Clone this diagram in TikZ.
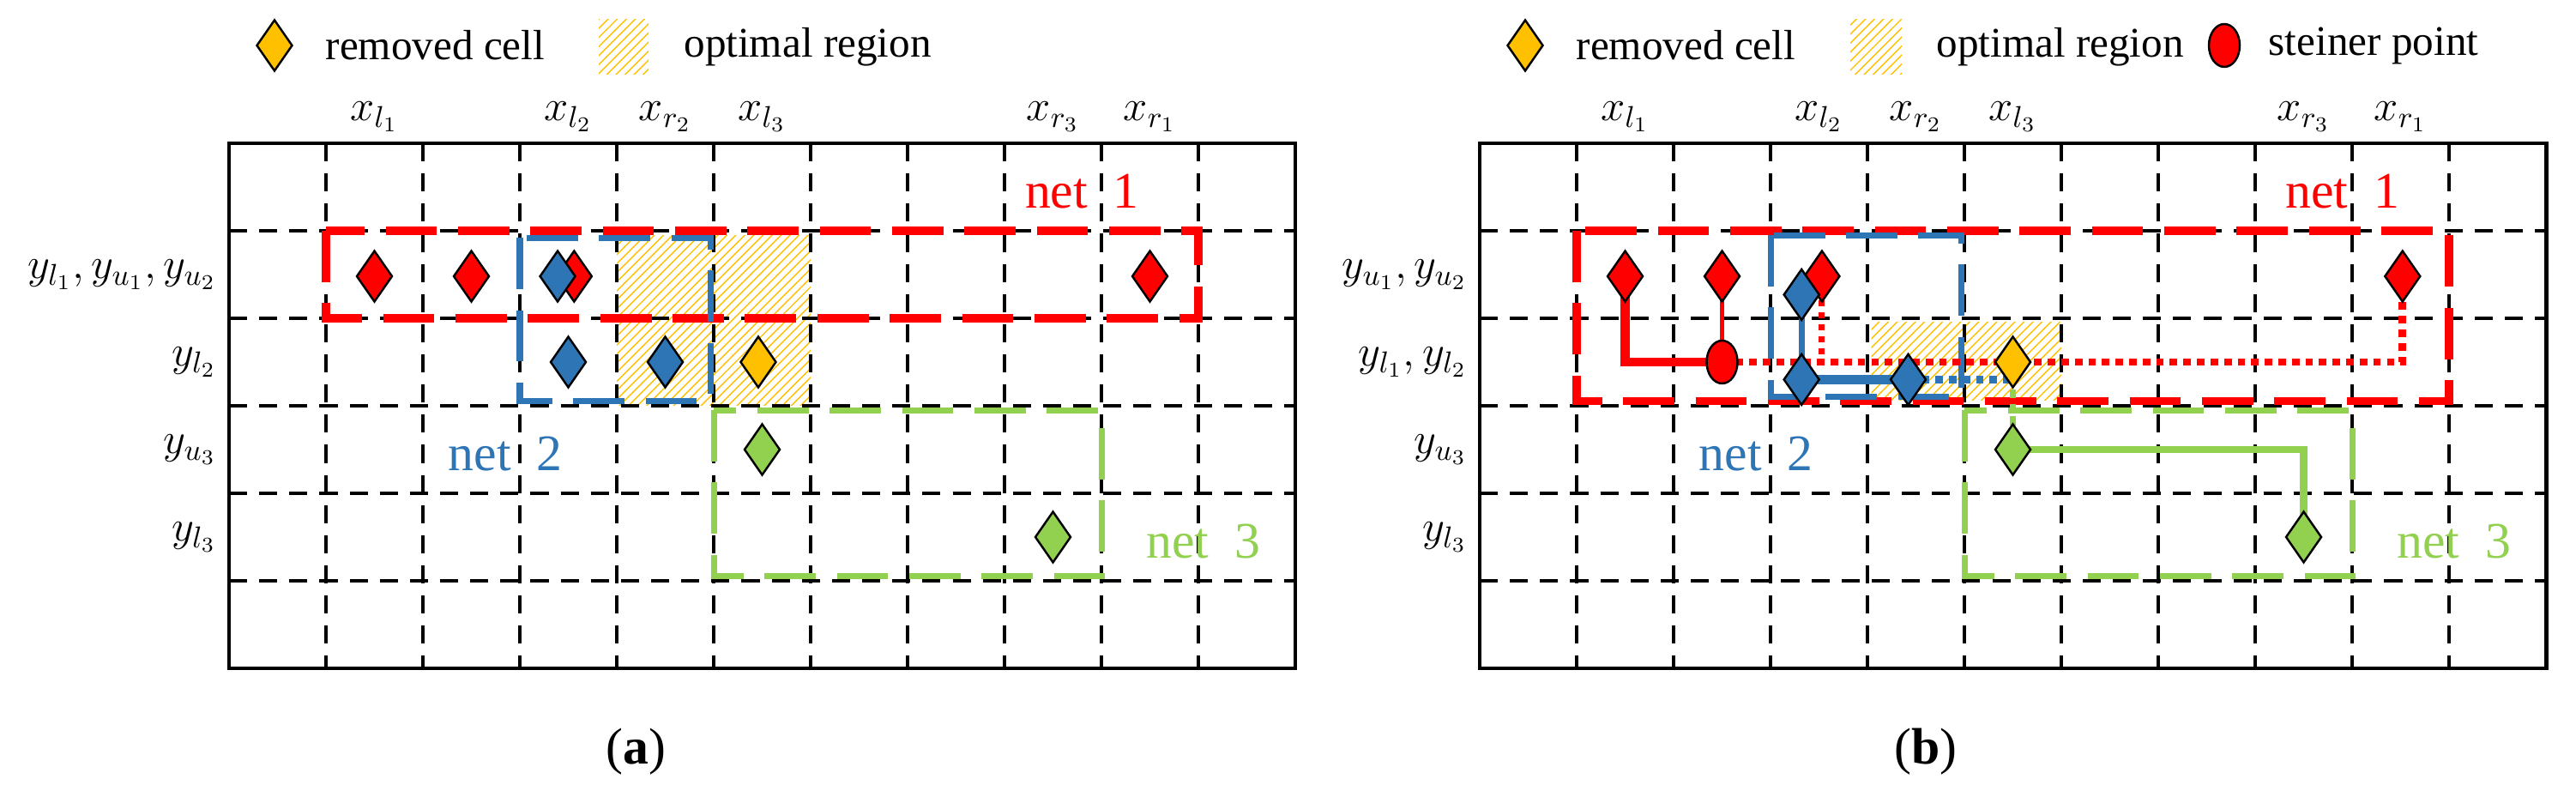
\documentclass[tikz,border=0pt]{standalone}
\usepackage{fontspec}
\setmainfont{Liberation Serif}
\usetikzlibrary{positioning}
\usetikzlibrary{shapes.geometric}
\usetikzlibrary{patterns}
\definecolor{rosso}{RGB}{255,0,0}
\definecolor{blu}{RGB}{46,117,182}
\definecolor{verde}{RGB}{146,208,80}
\definecolor{giallo}{RGB}{255,192,0}
\newcommand{\etichetta}[2]{\color{#1}{#2}}
\begin{document}
\begin{tikzpicture}[font=\fontsize{14}{16}\selectfont,
cella/.style={x=1.13cm,y=-1.02cm},
griglia/.style={black,line width=1.1pt,dash pattern=on 6pt off 4pt},
bordo/.style={black,line width=1.4pt},
rete/.style={line width=2.6pt,dash pattern=on 17pt off 7pt},
pin/.style={draw=black,diamond,aspect=0.7,minimum width=0.42cm,minimum height=0.6cm,inner sep=0pt,line width=0.7pt},
steiner/.style={draw=black,ellipse,fill=rosso,minimum width=0.36cm,minimum height=0.5cm,inner sep=0pt,line width=0.7pt},
zona/.style={pattern=north east lines,pattern color=giallo},
nome/.style={font=\fontsize{17}{19}\selectfont},
didascalia/.style={font=\fontsize{17}{19}\selectfont}
]
\useasboundingbox (0,0) rectangle (30.03,9.21);
%-- panel a
\begin{scope}[shift={(2.67,7.54)},cella]
\fill[zona] (4,1.05) rectangle (6,3);
\foreach \i in {1,...,10} \draw[griglia] (\i,0) -- (\i,6);
\foreach \j in {1,...,5} \draw[griglia] (0,\j) -- (11,\j);
\draw[bordo] (0,0) rectangle (11,6);
\draw[rete,rosso] (1,1) rectangle (10,2);
\draw[rete,blu,line width=2pt] (3,1.08) rectangle (4.97,2.95);
\draw[rete,verde,line width=2pt] (5,3.05) rectangle (9,4.95);
%--
\node[pin,fill=rosso] (a1) at (1.5,1.52){};
\node[pin,fill=rosso] (a2) at (2.5,1.52){};
\node[pin,fill=rosso] (a3) at (3.56,1.52){};
\node[pin,fill=rosso] (a9) at (9.5,1.52){};
\node[pin,fill=blu] (b1) at (3.39,1.52){};
\node[pin,fill=blu] (b2) at (3.5,2.5){};
\node[pin,fill=blu] (b3) at (4.5,2.5){};
\node[pin,fill=giallo] (c1) at (5.46,2.5){};
\node[pin,fill=verde] (g1) at (5.5,3.5){};
\node[pin,fill=verde] (g2) at (8.5,4.5){};
%--
\node[nome] (n1) at (8.8,0.55){\etichetta{rosso}{net\ \ 1}};
\node[nome] (n2) at (2.85,3.55){\etichetta{blu}{net\ \ 2}};
\node[nome] (n3) at (10.05,4.55){\etichetta{verde}{net\ \ 3}};
%--
\node (xl1) at (1.5,-0.3){$x_{l_1}$};
\node (xl2) at (3.5,-0.3){$x_{l_2}$};
\node (xr2) at (4.5,-0.3){$x_{r_2}$};
\node (xl3) at (5.5,-0.3){$x_{l_3}$};
\node (xr3) at (8.5,-0.3){$x_{r_3}$};
\node (xr1) at (9.5,-0.3){$x_{r_1}$};
\node[anchor=east] (y1) at (-0.02,1.5){$y_{l_1},y_{u_1},y_{u_2}$};
\node[anchor=east] (y2) at (-0.02,2.5){$y_{l_2}$};
\node[anchor=east] (y3) at (-0.02,3.5){$y_{u_3}$};
\node[anchor=east] (y4) at (-0.02,4.5){$y_{l_3}$};
\node[didascalia] (ta) at (4.2,6.95){(\textbf{a})};
\end{scope}
%-- legend a
\node[pin,fill=giallo] (la) at (3.2,8.68){};
\node[right=0.25cm of la] (lta){removed cell};
\fill[zona] (6.98,8.34) rectangle (7.56,8.98);
\node[anchor=west] (ltb) at (7.85,8.66){optimal region};
%-- panel b
\begin{scope}[shift={(17.25,7.54)},cella]
\fill[zona] (4.04,2.04) rectangle (6,2.94);
\foreach \i in {1,...,10} \draw[griglia] (\i,0) -- (\i,6);
\foreach \j in {1,...,5} \draw[griglia] (0,\j) -- (11,\j);
\draw[bordo] (0,0) rectangle (11,6);
\draw[rete,rosso] (1,1) rectangle (10,2.95);
\draw[rete,blu,line width=2pt] (3,1.05) rectangle (4.97,2.9);
\draw[rete,verde,line width=2pt] (5,3.05) rectangle (9,4.95);
%-- wires
\coordinate (sp) at (2.5,2.5);
\coordinate (a3p) at (3.53,1.52);
\coordinate (b3p) at (4.42,2.7);
\draw[rosso,line width=3pt] (1.5,1.52) coordinate (a1p) |- (sp);
\draw[rosso,line width=1.5pt] (2.5,1.52) coordinate (a2p) -- (sp);
\draw[rosso,line width=2.5pt,dotted] (sp) -| (9.52,1.52) coordinate (a9p);
\draw[rosso,line width=2pt,dotted] (a3p) -- (a3p |- sp);
\draw[blu,line width=2pt] (3.32,1.73) coordinate (b1p) -- (3.32,2.7) coordinate (b2p);
\draw[blu,line width=3pt] (b2p) -- (b3p);
\draw[blu,line width=2.5pt,dotted] (b3p) -- (5.5,2.7);
\draw[verde,line width=2pt,dash dot] (5.5,2.5) coordinate (c1p) -- (5.5,3.5) coordinate (g1p);
\draw[verde,line width=2.5pt] (g1p) -| (8.5,4.5) coordinate (g2p);
%--
\node[pin,fill=rosso] (a1) at (a1p){};
\node[pin,fill=rosso] (a2) at (a2p){};
\node[pin,fill=rosso] (a3) at (a3p){};
\node[pin,fill=rosso] (a9) at (a9p){};
\node[steiner] (s) at (sp){};
\node[pin,fill=blu] (b1) at (b1p){};
\node[pin,fill=blu] (b2) at (b2p){};
\node[pin,fill=blu] (b3) at (b3p){};
\node[pin,fill=giallo] (c1) at (c1p){};
\node[pin,fill=verde] (g1) at (g1p){};
\node[pin,fill=verde] (g2) at (g2p){};
%--
\node[nome] (n1) at (8.9,0.55){\etichetta{rosso}{net\ \ 1}};
\node[nome] (n2) at (2.85,3.55){\etichetta{blu}{net\ \ 2}};
\node[nome] (n3) at (10.05,4.55){\etichetta{verde}{net\ \ 3}};
%--
\node (xl1) at (1.5,-0.3){$x_{l_1}$};
\node (xl2) at (3.5,-0.3){$x_{l_2}$};
\node (xr2) at (4.5,-0.3){$x_{r_2}$};
\node (xl3) at (5.5,-0.3){$x_{l_3}$};
\node (xr3) at (8.5,-0.3){$x_{r_3}$};
\node (xr1) at (9.5,-0.3){$x_{r_1}$};
\node[anchor=east] (y1) at (-0.02,1.5){$y_{u_1},y_{u_2}$};
\node[anchor=east] (y2) at (-0.02,2.5){$y_{l_1},y_{l_2}$};
\node[anchor=east] (y3) at (-0.02,3.5){$y_{u_3}$};
\node[anchor=east] (y4) at (-0.02,4.5){$y_{l_3}$};
\node[didascalia] (tb) at (4.6,6.95){(\textbf{b})};
\end{scope}
%-- legend b
\node[pin,fill=giallo] (lb) at (17.78,8.68){};
\node[right=0.25cm of lb] (ltc){removed cell};
\fill[zona] (21.57,8.34) rectangle (22.17,8.98);
\node[anchor=west] (ltd) at (22.45,8.66){optimal region};
\node[steiner] (le) at (25.93,8.68){};
\node[right=0.2cm of le] (ltf){steiner point};
\end{tikzpicture}
\end{document}
